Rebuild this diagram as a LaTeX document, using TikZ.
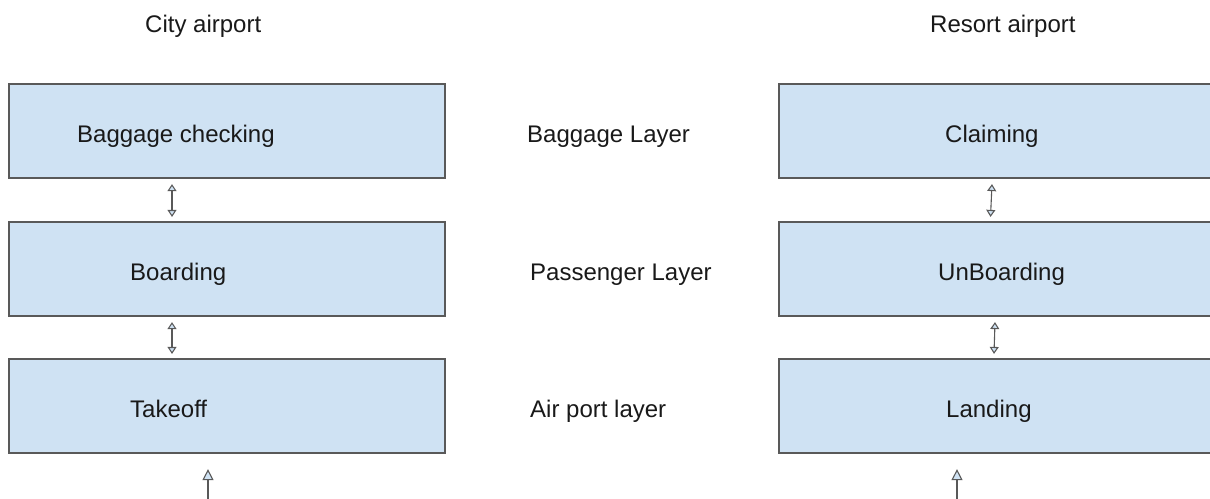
\documentclass[tikz,border=0pt]{standalone}
\usepackage{fontspec}
\setmainfont{Liberation Sans}
\usetikzlibrary{arrows.meta}
\definecolor{boxfill}{HTML}{CFE2F3}
\definecolor{boxline}{HTML}{595959}
\begin{document}
\begin{tikzpicture}[x=1pt,y=-1pt,
  box/.style={draw=boxline,line width=2.2pt,fill=boxfill,minimum height=94pt,inner sep=0pt},
  leftbox/.style={box,minimum width=436pt},
  rightbox/.style={box,minimum width=435pt},
  lbl/.style={anchor=base west,font=\fontsize{24}{28}\selectfont,inner sep=0pt,text=black!90},
  dbl/.style={draw=boxline,line width=1.1pt,{Triangle[width=9pt,length=7pt,fill=boxfill]}-{Triangle[width=9pt,length=7pt,fill=boxfill]}},
  up/.style={draw=boxline,line width=1.1pt,-{Triangle[width=11pt,length=11pt,fill=boxfill]}}]
\useasboundingbox (0,0) rectangle (1210,498);
\fill[white] (0,0) rectangle (1210,498);

% left column
\node[leftbox] (b1) at (227,131) {};
\node[leftbox] (b2) at (227,269) {};
\node[leftbox] (b3) at (227,406) {};
% right column
\node[rightbox] (r1) at (996.5,131) {};
\node[rightbox] (r2) at (996.5,269) {};
\node[rightbox] (r3) at (996.5,406) {};

% titles
\node[lbl] (t1) at (145,32) {City airport};
\node[lbl] (t2) at (930,32) {Resort airport};

% box texts
\node[lbl] (l1) at (77,142) {Baggage checking};
\node[lbl] (l2) at (130,280) {Boarding};
\node[lbl] (l3) at (130,417) {Takeoff};
\node[lbl] (m1) at (527,142) {Baggage Layer};
\node[lbl] (m2) at (530,280) {Passenger Layer};
\node[lbl] (m3) at (530,417) {Air port layer};
\node[lbl] (q1) at (945,142) {Claiming};
\node[lbl] (q2) at (938,280) {UnBoarding};
\node[lbl] (q3) at (946,417) {Landing};

% connectors
\draw[dbl] ([xshift=-55pt,yshift=-5pt]b1.south) -- ([xshift=-55pt,yshift=4pt]b2.north);
\draw[dbl] ([xshift=-55pt,yshift=-5pt]b2.south) -- ([xshift=-55pt,yshift=4pt]b3.north);
\draw[dbl] ([xshift=-4.5pt,yshift=-5pt]r1.south) -- ([xshift=-6pt,yshift=4pt]r2.north);
\draw[dbl] ([xshift=-1.5pt,yshift=-5pt]r2.south) -- ([xshift=-2.5pt,yshift=4pt]r3.north);

\coordinate (s1) at (208,500);
\coordinate (s2) at (957,500);
\draw[up] (s1) -- ([xshift=-19pt,yshift=-15pt]b3.south);
\draw[up] (s2) -- ([xshift=-39.5pt,yshift=-15pt]r3.south);
\end{tikzpicture}
\end{document}
